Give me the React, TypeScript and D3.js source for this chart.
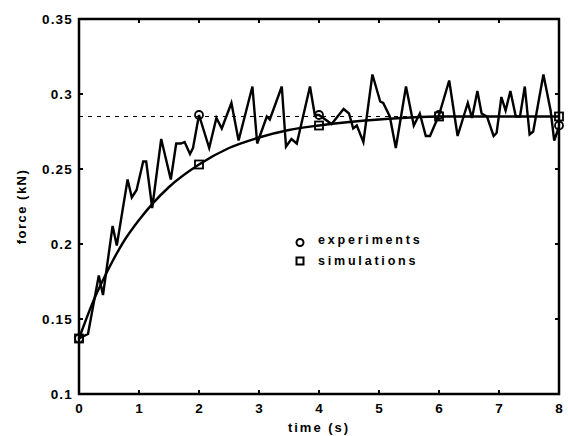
import React from "react";
import * as d3 from "d3";

// Experimental force (noisy trace)
const expTime = [0, 0.15, 0.33, 0.4, 0.56, 0.63, 0.81, 0.88, 0.96, 1.07, 1.12, 1.22, 1.37, 1.53, 1.62, 1.7, 1.76, 1.85, 1.9, 2.0,
  2.17, 2.29, 2.38, 2.54, 2.66, 2.89, 2.97, 3.13, 3.18, 3.38, 3.45, 3.54, 3.63, 3.85, 3.93, 4.0,
  4.21, 4.41, 4.5, 4.57, 4.63, 4.74, 4.89, 5.02, 5.07, 5.18, 5.28, 5.45, 5.58, 5.68, 5.78, 5.85, 6.0,
  6.17, 6.31, 6.41, 6.48, 6.55, 6.64, 6.71, 6.8, 6.91, 6.96, 7.04, 7.11, 7.19, 7.28, 7.35, 7.43, 7.51, 7.57, 7.74, 7.86, 7.92, 8.0];
const expForce = [0.137, 0.140, 0.179, 0.166, 0.212, 0.199, 0.243, 0.231, 0.236, 0.255, 0.255, 0.224, 0.270, 0.243, 0.267, 0.267, 0.268, 0.260, 0.264, 0.286,
  0.264, 0.284, 0.277, 0.294, 0.269, 0.305, 0.267, 0.285, 0.283, 0.305, 0.265, 0.270, 0.267, 0.305, 0.286, 0.286,
  0.280, 0.290, 0.287, 0.277, 0.279, 0.268, 0.313, 0.295, 0.294, 0.285, 0.264, 0.305, 0.279, 0.287, 0.272, 0.272, 0.286,
  0.309, 0.272, 0.285, 0.294, 0.284, 0.302, 0.287, 0.285, 0.272, 0.274, 0.298, 0.289, 0.302, 0.285, 0.285, 0.305, 0.273, 0.275, 0.313, 0.289, 0.269, 0.278];

// Simulated force (smooth curve)
const simTime = [0, 0.25, 0.5, 0.75, 1, 1.5, 2, 2.5, 3, 3.5, 4, 5, 6, 7, 8];
const simForce = [0.137, 0.163, 0.184, 0.202, 0.216, 0.238, 0.253, 0.264, 0.271, 0.276, 0.279, 0.283, 0.285, 0.285, 0.285];

// Markers
const expMarkT = [0, 2, 4, 6, 8];
const expMarkF = [0.137, 0.286, 0.286, 0.286, 0.279];
const simMarkT = [0, 2, 4, 6, 8];
const simMarkF = [0.137, 0.253, 0.279, 0.285, 0.285];

const steadyState = 0.285;

const xTicks = [0, 1, 2, 3, 4, 5, 6, 7, 8];
const yTicks = [0.1, 0.15, 0.2, 0.25, 0.3, 0.35];
const yTickLabels = ["0.1", "0.15", "0.2", "0.25", "0.3", "0.35"];

const legendLabels = ["experiments", "simulations"];

export default function App() {
  const x = d3.scaleLinear().domain([0, 8]).range([79, 559]);
  const y = d3.scaleLinear().domain([0.1, 0.35]).range([394, 19]);
  const font = "'Liberation Sans', Arial, Helvetica, sans-serif";

  const expLine = d3.line<number>().x((_, i) => x(expTime[i])).y((d) => y(d))(expForce) || "";
  const simLine = d3.line<number>().x((_, i) => x(simTime[i])).y((d) => y(d)).curve(d3.curveMonotoneX)(simForce) || "";

  const x0 = x(0), x1 = x(8), yb = y(0.1), yt = y(0.35);
  const tl = 4;

  return (
    <svg width={568} height={436} style={{ position: "absolute", left: 0, top: 0, background: "#fff" }}>
      <rect x={0} y={0} width={568} height={436} fill="#fff" />
      {/* dashed steady-state line */}
      <line x1={x0} x2={x1} y1={y(steadyState)} y2={y(steadyState)} stroke="#000" strokeWidth={1} strokeDasharray="4,5" />
      {/* simulation curve */}
      <path d={simLine} fill="none" stroke="#000" strokeWidth={2.4} />
      {/* experiment trace */}
      <path d={expLine} fill="none" stroke="#000" strokeWidth={2.4} strokeLinejoin="miter" strokeMiterlimit={4} />
      {/* markers */}
      {expMarkT.map((t, i) => (
        <circle key={"c" + i} cx={x(t)} cy={y(expMarkF[i])} r={4} fill="none" stroke="#000" strokeWidth={1.8} />
      ))}
      {simMarkT.map((t, i) => (
        <rect key={"s" + i} x={x(t) - 4} y={y(simMarkF[i]) - 4} width={8} height={8} fill="none" stroke="#000" strokeWidth={1.8} />
      ))}
      {/* axes box */}
      <rect x={x0} y={yt} width={x1 - x0} height={yb - yt} fill="none" stroke="#000" strokeWidth={2.5} />
      {xTicks.map((t) => (
        <g key={"xt" + t}>
          <line x1={x(t)} x2={x(t)} y1={yb} y2={yb - tl} stroke="#000" strokeWidth={2} />
          <line x1={x(t)} x2={x(t)} y1={yt} y2={yt + tl} stroke="#000" strokeWidth={2} />
          <text x={x(t)} y={413} textAnchor="middle" fontFamily={font} fontWeight="bold" fontSize={13.5}>{t}</text>
        </g>
      ))}
      {yTicks.map((v, i) => (
        <g key={"yt" + i}>
          <line x1={x0} x2={x0 + tl} y1={y(v)} y2={y(v)} stroke="#000" strokeWidth={2} />
          <line x1={x1} x2={x1 - tl} y1={y(v)} y2={y(v)} stroke="#000" strokeWidth={2} />
          <text x={73} y={y(v) + 5} textAnchor="end" fontFamily={font} fontWeight="bold" fontSize={13.5} letterSpacing={1.2}>{yTickLabels[i]}</text>
        </g>
      ))}
      {/* axis labels */}
      <text x={x(4)} y={432} textAnchor="middle" fontFamily={font} fontWeight="bold" fontSize={13} letterSpacing={2}>time (s)</text>
      <text transform={`translate(26,${(yt + yb) / 2}) rotate(-90)`} textAnchor="middle" fontFamily={font} fontWeight="bold" fontSize={13} letterSpacing={1.5}>force (kN)</text>
      {/* legend */}
      <circle cx={300} cy={242.5} r={3.5} fill="none" stroke="#000" strokeWidth={2} />
      <rect x={296.5} y={257.5} width={7} height={7} fill="none" stroke="#000" strokeWidth={2} />
      <text x={318} y={244} fontFamily={font} fontWeight="bold" fontSize={12.5} letterSpacing={2.8}>{legendLabels[0]}</text>
      <text x={318} y={264.5} fontFamily={font} fontWeight="bold" fontSize={12.5} letterSpacing={2.8}>{legendLabels[1]}</text>
    </svg>
  );
}
